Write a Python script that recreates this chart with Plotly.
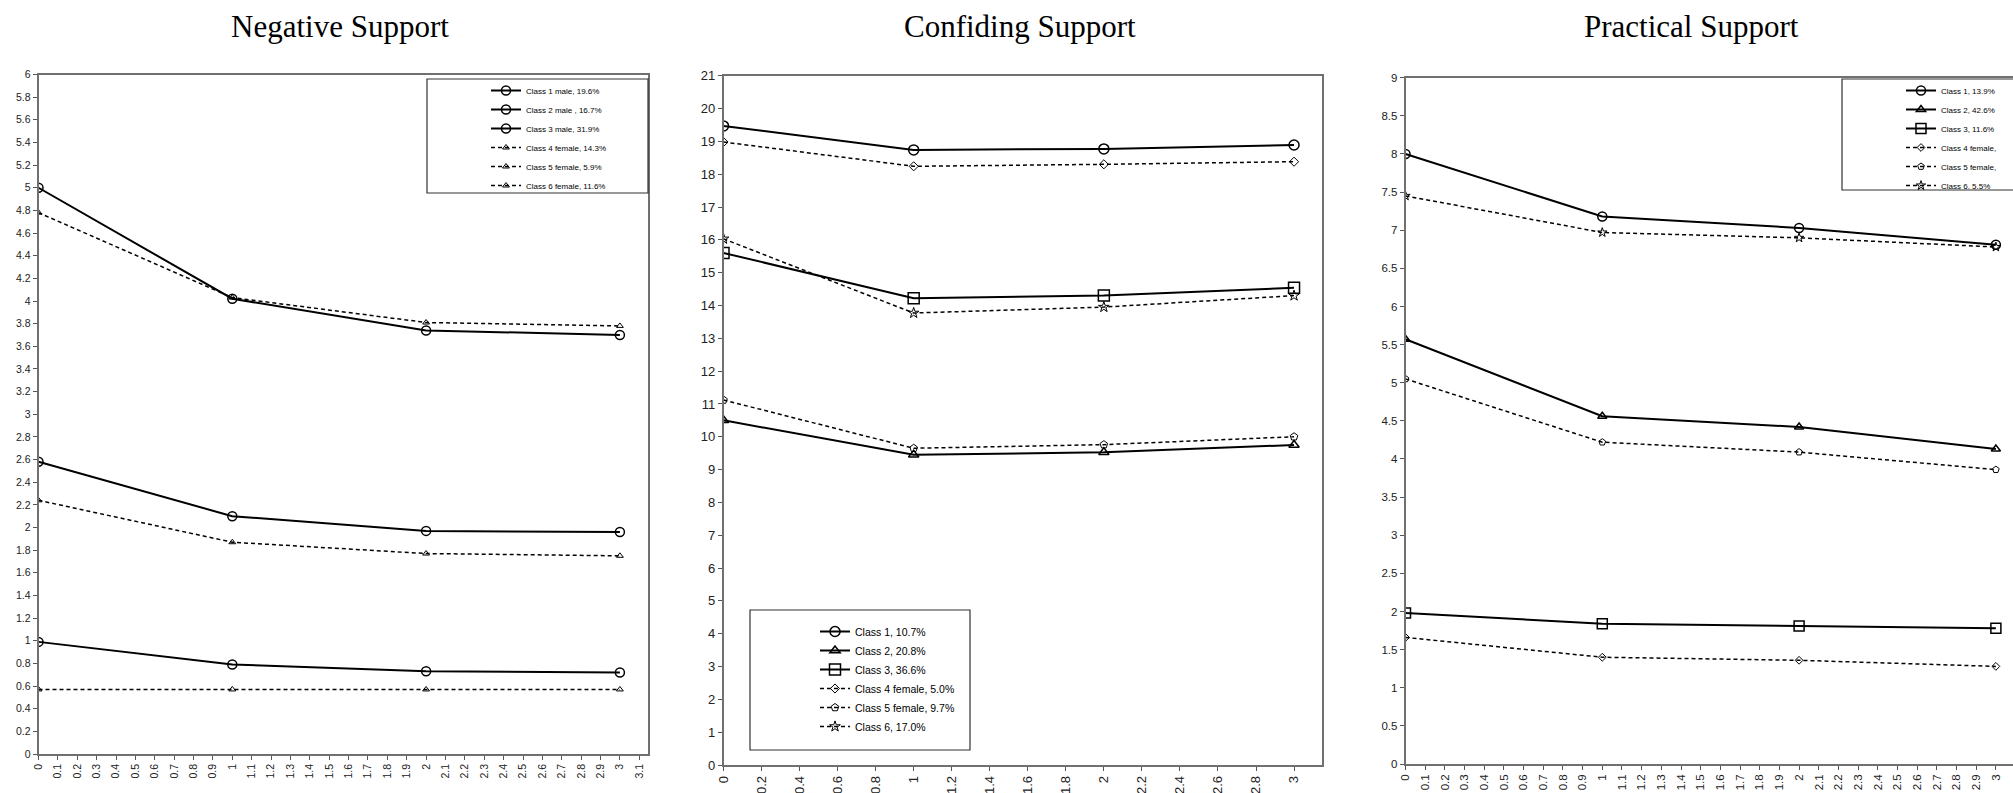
import plotly.graph_objects as go

# ---------------- data ----------------
waves = [0, 1, 2, 3]

# Negative Support
neg_names = ["Class 1 male, 19.6%", "Class 2 male , 16.7%", "Class 3 male, 31.9%",
             "Class 4 female, 14.3%", "Class 5 female, 5.9%", "Class 6 female, 11.6%"]
neg_c1 = [5.00, 4.02, 3.74, 3.70]
neg_c2 = [2.58, 2.10, 1.97, 1.96]
neg_c3 = [0.99, 0.79, 0.73, 0.72]
neg_c4 = [4.78, 4.03, 3.81, 3.78]
neg_c5 = [2.24, 1.87, 1.77, 1.75]
neg_c6 = [0.57, 0.57, 0.57, 0.57]

# Confiding Support
conf_names = ["Class 1, 10.7%", "Class 2, 20.8%", "Class 3, 36.6%",
              "Class 4 female, 5.0%", "Class 5 female, 9.7%", "Class 6, 17.0%"]
conf_c1 = [19.47, 18.74, 18.77, 18.89]
conf_c2 = [10.50, 9.45, 9.53, 9.75]
conf_c3 = [15.60, 14.22, 14.30, 14.54]
conf_c4 = [18.98, 18.24, 18.30, 18.38]
conf_c5 = [11.12, 9.65, 9.76, 10.00]
conf_c6 = [16.03, 13.77, 13.95, 14.30]

# Practical Support
prac_names = ["Class 1, 13.9%", "Class 2, 42.6%", "Class 3, 11.6%",
              "Class 4 female, ", "Class 5 female, ", "Class 6. 5.5%"]
prac_c1 = [8.00, 7.18, 7.03, 6.81]
prac_c2 = [5.57, 4.56, 4.42, 4.13]
prac_c3 = [1.98, 1.84, 1.81, 1.78]
prac_c4 = [1.66, 1.40, 1.36, 1.28]
prac_c5 = [5.05, 4.22, 4.09, 3.86]
prac_c6 = [7.45, 6.97, 6.90, 6.78]

titles = ["Negative Support", "Confiding Support", "Practical Support"]

# ---------------- figure ----------------
W, H = 2013, 793
fig = go.Figure()

def px_x(v):
    return v / W

def px_y(v):
    return (H - v) / H

SOLID = dict(color="black", width=2)
DASH = dict(color="black", width=1.5, dash="4px,3px")

def add(xa, ya, leg, name, ys, solid, symbol, size, lw=1.5):
    fig.add_trace(go.Scatter(
        x=waves, y=ys, name=name, mode="lines+markers",
        xaxis=xa, yaxis=ya, legend=leg,
        line=SOLID if solid else DASH,
        marker=dict(symbol=symbol, size=size, color="black",
                    line=dict(color="black", width=lw)),
    ))

# panel 1
neg_series = [neg_c1, neg_c2, neg_c3, neg_c4, neg_c5, neg_c6]
for i, ys in enumerate(neg_series):
    solid = i < 3
    add("x", "y", "legend", neg_names[i], ys, solid,
        "circle-open" if solid else "triangle-up-open", 9 if solid else 6,
        1.5 if solid else 1)

# panel 2
conf_series = [conf_c1, conf_c2, conf_c3, conf_c4, conf_c5, conf_c6]
conf_sym = ["circle-open", "triangle-up-open", "square-open", "diamond-open", "pentagon-open", "star-open"]
conf_size = [10, 9, 11, 7, 8, 8]
for i, ys in enumerate(conf_series):
    add("x2", "y2", "legend2", conf_names[i], ys, i < 3, conf_sym[i], conf_size[i],
        1.5 if i < 3 else 1)

# panel 3
prac_series = [prac_c1, prac_c2, prac_c3, prac_c4, prac_c5, prac_c6]
for i, ys in enumerate(prac_series):
    add("x3", "y3", "legend3", prac_names[i], ys, i < 3, conf_sym[i],
        [9, 8, 10, 6, 7, 7][i], 1.5 if i < 3 else 1)

axis_common = dict(showline=True, linecolor="#707070", linewidth=1.5,
                   ticks="outside", ticklen=4, tickcolor="#555", tickwidth=1,
                   showgrid=False, zeroline=False, fixedrange=True)

font1 = dict(family="Liberation Sans, Arial", size=10.5, color="#222")
font2 = dict(family="Liberation Sans Narrow, Liberation Sans, Arial", size=13, color="#222")
font3 = dict(family="Liberation Sans Narrow, Liberation Sans, Arial", size=11.5, color="#222")

fig.update_layout(
    width=W, height=H,
    margin=dict(l=0, r=0, t=0, b=0, autoexpand=False),
    paper_bgcolor="white", plot_bgcolor="white",
    showlegend=True,
    xaxis=dict(domain=[px_x(38.5), px_x(648)], range=[0, 3.145], tickmode="linear",
               tick0=0, dtick=0.1, tickangle=-90, tickfont=font1, mirror=True,
               anchor="y", **axis_common),
    yaxis=dict(domain=[px_y(754), px_y(74.5)], range=[0, 6], tickmode="linear",
               tick0=0, dtick=0.2, tickfont=font1, mirror=True, anchor="x",
               **axis_common),
    xaxis2=dict(domain=[px_x(723.5), px_x(1322)], range=[0, 3.147], tickmode="linear",
                tick0=0, dtick=0.2, tickangle=-90, tickfont=font2, mirror=True,
                anchor="y2", **axis_common),
    yaxis2=dict(domain=[px_y(765), px_y(75.7)], range=[0, 21], tickmode="linear",
                tick0=0, dtick=1, tickfont=font2, mirror=True, anchor="x2",
                **axis_common),
    xaxis3=dict(domain=[px_x(1405.5), 1.0], range=[0, 3.087], tickmode="linear",
                tick0=0, dtick=0.1, tickangle=-90, tickfont=font3, mirror=True,
                anchor="y3", **axis_common),
    yaxis3=dict(domain=[px_y(764), px_y(77.7)], range=[0, 9], tickmode="linear",
                tick0=0, dtick=0.5, tickfont=font3, mirror=False, anchor="x3",
                **axis_common),
    legend=dict(x=px_x(486), y=px_y(76), xanchor="left", yanchor="top",
                bgcolor="rgba(0,0,0,0)", borderwidth=0, itemwidth=30,
                font=dict(family="Liberation Sans, Arial", size=8, color="black"),
                itemclick=False, itemdoubleclick=False),
    legend2=dict(x=px_x(815), y=px_y(617), xanchor="left", yanchor="top",
                 bgcolor="rgba(0,0,0,0)", borderwidth=0, itemwidth=30,
                 font=dict(family="Liberation Sans Narrow, Liberation Sans, Arial", size=10.5, color="black"),
                 itemclick=False, itemdoubleclick=False),
    legend3=dict(x=px_x(1901), y=px_y(76), xanchor="left", yanchor="top",
                 bgcolor="rgba(0,0,0,0)", borderwidth=0, itemwidth=30,
                 font=dict(family="Liberation Sans, Arial", size=8, color="black"),
                 itemclick=False, itemdoubleclick=False),
)

# legend frames
boxes = [(427, 79, 648, 193), (750, 610, 970, 750), (1842, 79, 2020, 190)]
for (x0, y0, x1, y1) in boxes:
    fig.add_shape(type="rect", xref="paper", yref="paper",
                  x0=px_x(x0), x1=px_x(x1), y0=px_y(y1), y1=px_y(y0),
                  line=dict(color="#333", width=1.2), fillcolor="rgba(0,0,0,0)")

# titles
title_x = [340, 1020, 1691]
for t, cx in zip(titles, title_x):
    fig.add_annotation(text=t, x=px_x(cx), y=px_y(26), xref="paper", yref="paper",
                       showarrow=False, xanchor="center", yanchor="middle",
                       font=dict(family="Liberation Serif, Times New Roman", size=31, color="black"))

fig.write_html("out.html")
